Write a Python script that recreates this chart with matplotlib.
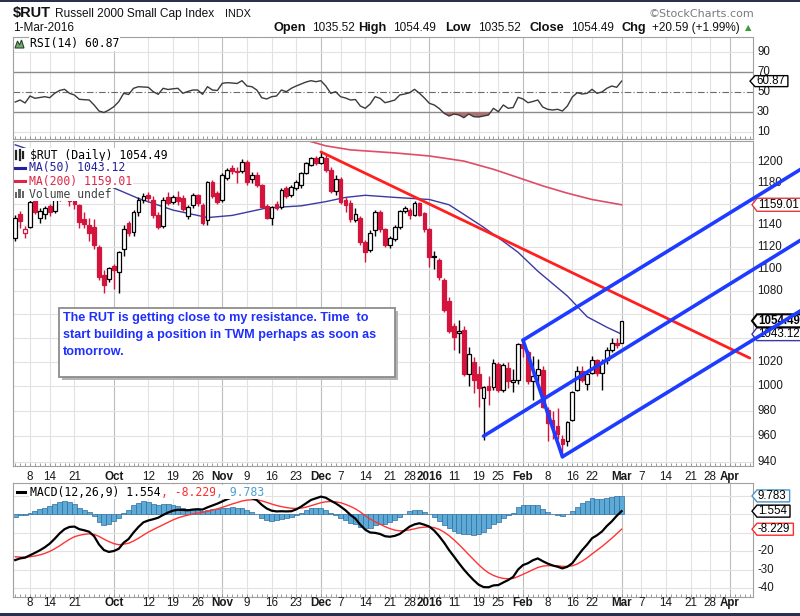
import numpy as np
import pandas as pd
import matplotlib
matplotlib.use('Agg')
import matplotlib.pyplot as plt
from matplotlib.patches import Rectangle, Polygon
from matplotlib.lines import Line2D
from matplotlib.ticker import NullLocator
from matplotlib.transforms import IdentityTransform, blended_transform_factory

# ---------------- trading calendar ----------------
holidays = ['2015-09-07', '2015-11-26', '2015-12-25', '2016-01-01',
            '2016-01-18', '2016-02-15', '2016-03-25']
calendar = pd.bdate_range('2015-09-02', '2016-04-29', freq='C', holidays=holidays)


def pos(d):
    return calendar.get_loc(pd.Timestamp(d))


# ---------------- data (Sep 2 2015 .. Mar 1 2016) ----------------
opens = [1128, 1150, 1133, 1138, 1164, 1147, 1150, 1158, 1153, 1165,
         1174, 1171, 1167, 1159, 1146, 1140, 1138, 1120, 1095, 1091,
         1103, 1097, 1118, 1142, 1134, 1152, 1164, 1168, 1164, 1149,
         1139, 1166, 1162, 1166, 1165, 1148, 1159, 1168, 1159, 1145,
         1181, 1170, 1164, 1185, 1194, 1191, 1191, 1200, 1184, 1187,
         1178, 1158, 1147, 1160, 1157, 1175, 1168, 1175, 1178, 1189,
         1197, 1204, 1199, 1204, 1192, 1172, 1184, 1164, 1161, 1145,
         1147, 1124, 1117, 1135, 1152, 1136, 1122, 1127, 1138, 1153,
         1154, 1149, 1161, 1151, 1136, 1111, 1108, 1090, 1072, 1050,
         1044, 1047, 1010, 1020, 1010, 990, 1000, 999, 1018, 997,
         1015, 1003, 1005, 1035, 1028, 1004, 1009, 1013, 981, 973,
         968, 958, 956, 973, 997, 1012, 1002, 1011, 1021, 1011,
         1021, 1030, 1036, 1035.52]
highs = [1149, 1153, 1139, 1165, 1166, 1156, 1158, 1160, 1167, 1176,
         1186, 1173, 1170, 1160, 1152, 1147, 1146, 1122, 1099, 1102,
         1104, 1116, 1140, 1144, 1154, 1166, 1170, 1171, 1167, 1152,
         1166, 1171, 1168, 1172, 1168, 1159, 1170, 1169, 1161, 1182,
         1183, 1172, 1189, 1194, 1197, 1195, 1203, 1202, 1190, 1190,
         1179, 1160, 1158, 1163, 1175, 1177, 1178, 1183, 1190, 1200,
         1205, 1206, 1211, 1207, 1195, 1187, 1186, 1166, 1164, 1156,
         1148, 1126, 1135, 1154, 1154, 1137, 1130, 1140, 1154, 1158,
         1156, 1163, 1162, 1152, 1137, 1116, 1110, 1092, 1075, 1053,
         1055, 1050, 1032, 1024, 1016, 1000, 1008, 1022, 1020, 1019,
         1020, 1014, 1036, 1038, 1030, 1025, 1022, 1016, 983, 980,
         982, 961, 972, 996, 1016, 1016, 1012, 1025, 1022, 1022,
         1032, 1040, 1040, 1054.49]
lows = [1125, 1137, 1128, 1137, 1150, 1142, 1146, 1148, 1151, 1163,
        1166, 1158, 1155, 1137, 1137, 1125, 1118, 1090, 1079, 1088,
        1082, 1079, 1112, 1130, 1130, 1148, 1161, 1162, 1147, 1136,
        1137, 1159, 1160, 1159, 1153, 1146, 1156, 1158, 1140, 1140,
        1165, 1160, 1162, 1183, 1188, 1180, 1189, 1178, 1180, 1176,
        1156, 1146, 1140, 1154, 1155, 1165, 1166, 1173, 1175, 1188,
        1196, 1197, 1198, 1190, 1170, 1168, 1160, 1152, 1143, 1143,
        1122, 1106, 1115, 1130, 1134, 1120, 1119, 1125, 1136, 1151,
        1146, 1148, 1148, 1134, 1102, 1100, 1090, 1062, 1044, 1030,
        1027, 1008, 1000, 994, 983, 957, 985, 997, 995, 995,
        998, 995, 1002, 1024, 1002, 989, 1003, 982, 956, 958,
        958, 946, 952, 972, 996, 1003, 997, 1010, 1008, 997,
        1018, 1028, 1031, 1035.52]
closes = [1147, 1144, 1136, 1162, 1152, 1153, 1156, 1152, 1165, 1174,
          1172, 1163, 1160, 1143, 1141, 1133, 1122, 1093, 1086, 1101,
          1099, 1115, 1136, 1133, 1152, 1164, 1167, 1165, 1149, 1138,
          1164, 1161, 1166, 1163, 1155, 1157, 1168, 1161, 1142, 1181,
          1167, 1162, 1187, 1192, 1191, 1190, 1200, 1181, 1187, 1178,
          1157, 1147, 1157, 1156, 1173, 1167, 1176, 1181, 1189, 1199,
          1204, 1199, 1205, 1192, 1172, 1184, 1162, 1159, 1146, 1150,
          1124, 1115, 1133, 1152, 1136, 1122, 1128, 1138, 1153, 1156,
          1149, 1161, 1149, 1136, 1111, 1112, 1093, 1064, 1046, 1041,
          1046, 1010, 1026, 1005, 998, 999, 997, 1019, 997, 1017,
          1004, 1005, 1035, 1031, 1004, 1008, 1014, 983, 970, 966,
          962, 954, 971, 995, 1012, 1005, 1010, 1021, 1011, 1020,
          1030, 1035.5, 1033.9, 1054.49]

rsi = [40, 42, 39, 46, 43.7, 44.5, 45.3, 44.3, 48.7, 51.5,
       52.7, 48.7, 47, 42.7, 42.3, 42, 37, 31, 29.5, 32,
       35.3, 40.3, 48.7, 47.5, 53.7, 55.3, 55, 54.7, 50.3, 47.7,
       53.7, 52.5, 53.2, 53.7, 48.7, 50.5, 52, 52, 47.7, 55.3,
       52, 51.5, 58.7, 59.3, 59, 58.5, 61.3, 56, 55.3, 52,
       44.3, 43, 45.3, 46, 52, 50.3, 53.7, 56, 58, 60,
       61.3, 60.3, 61.3, 56, 48.7, 50.3, 45.3, 44, 42, 42.5,
       36, 33.7, 38, 45.3, 43.7, 39.3, 40.5, 42, 47, 48,
       49.3, 52.7, 48.7, 44, 38.7, 37, 33.5, 28.7, 26, 28,
       27, 24.3, 28, 25.3, 25, 26, 27, 33.7, 30.3, 37,
       33.7, 34.5, 44.7, 43, 39.3, 40.5, 42, 35, 32.7, 32,
       32.7, 31, 36, 45, 49.3, 48, 48.7, 52.7, 48.7, 50,
       53.7, 56, 54.7, 60.87]

macd = [-24.9, -24.0, -23.6, -22.3, -21.0, -19.6, -18.0, -16.0, -13.4, -10.5,
        -8.2, -7.0, -6.8, -8.2, -8.8, -9.6, -12.0, -16.5, -19.5, -20.5,
        -20.0, -18.8, -15.5, -13.5, -10.0, -7.0, -4.5, -3.5, -2.8, -2.0,
        -0.5, 0.8, 1.8, 2.3, 2.2, 2.0, 2.4, 2.6, 2.4, 3.6,
        4.6, 5.6, 6.8, 8.0, 9.0, 9.6, 10.0, 9.5, 8.6, 7.5,
        5.0, 3.0, 1.8, 1.4, 1.5, 1.4, 1.5, 2.5, 4.0, 5.8,
        7.6, 8.5, 9.4, 8.8, 7.2, 5.8, 4.0, 2.0, -0.5, -2.5,
        -5.8, -8.5, -10.0, -10.2, -10.8, -12.0, -12.3, -11.8, -10.8, -8.8,
        -6.8, -5.6, -5.0, -5.8, -6.8, -9.0, -12.0, -15.5, -19.5, -23.0,
        -26.6, -30.0, -33.0, -35.8, -38.2, -39.5, -39.6, -38.6, -38.4, -37.0,
        -35.7, -34.0, -30.0, -27.6, -26.6, -25.0, -24.0, -25.5, -26.8, -27.8,
        -28.5, -29.4, -28.5, -26.6, -23.0, -19.5, -16.5, -13.1, -11.5, -9.5,
        -6.5, -4.0, -1.0, 1.554]
signal = [-23.1, -23.3, -23.3, -23.1, -22.7, -22.1, -21.3, -20.2, -18.8, -17.2,
          -15.4, -13.7, -12.3, -11.5, -11.0, -10.7, -11.0, -12.1, -13.6, -14.9,
          -16.0, -16.6, -16.3, -15.8, -14.6, -13.1, -11.4, -9.8, -8.4, -7.1,
          -5.8, -4.5, -3.2, -2.1, -1.3, -0.6, 0.0, 0.5, 0.9, 1.4,
          2.1, 2.8, 3.6, 4.5, 5.4, 6.2, 7.0, 7.5, 7.7, 7.7,
          7.1, 6.3, 5.4, 4.6, 4.0, 3.5, 3.1, 3.0, 3.2, 3.7,
          4.5, 5.3, 6.1, 6.6, 6.8, 6.6, 6.1, 5.2, 4.1, 2.8,
          1.1, -0.9, -2.7, -4.2, -5.5, -6.8, -7.9, -8.7, -9.1, -9.0,
          -8.6, -8.0, -7.4, -7.1, -7.0, -7.4, -8.3, -9.8, -11.7, -14.0,
          -16.5, -19.2, -22.0, -24.7, -27.4, -29.8, -31.8, -33.2, -34.2, -34.8,
          -35.0, -34.8, -33.8, -32.6, -31.4, -30.1, -28.9, -28.2, -27.9, -27.9,
          -28.0, -28.3, -28.3, -28.0, -27.0, -25.5, -23.7, -21.6, -19.6, -17.6,
          -15.4, -13.1, -10.7, -8.229]

ma50_dates = ['2015-09-02', '2015-09-08', '2015-09-15', '2015-09-22', '2015-09-30',
              '2015-10-08', '2015-10-19', '2015-10-28', '2015-11-04', '2015-11-13',
              '2015-11-24', '2015-12-02', '2015-12-08', '2015-12-14', '2015-12-22',
              '2016-01-04', '2016-01-08', '2016-01-13', '2016-01-20', '2016-01-26',
              '2016-01-29', '2016-02-04', '2016-02-12', '2016-02-19', '2016-02-25',
              '2016-03-01']
ma50_vals = [1217, 1212, 1204, 1193, 1177, 1165, 1154, 1147, 1149, 1156,
             1158, 1162, 1166, 1168, 1166, 1164, 1159, 1150, 1138, 1125,
             1115, 1098, 1076, 1058, 1049, 1043.12]
ma200_dates = ['2015-09-02', '2015-10-15', '2015-11-16', '2015-11-24', '2015-12-02',
               '2015-12-09', '2015-12-22', '2016-01-04', '2016-01-13', '2016-01-22',
               '2016-01-29', '2016-02-05', '2016-02-12', '2016-02-22', '2016-03-01']
ma200_vals = [1240, 1234, 1229, 1223, 1216, 1212, 1209, 1206, 1201, 1193,
              1185, 1177, 1170, 1164, 1159.01]

tick_dates = ['2015-09-08', '2015-09-14', '2015-09-21', '2015-10-01', '2015-10-12',
              '2015-10-19', '2015-10-26', '2015-11-02', '2015-11-09', '2015-11-16',
              '2015-11-23', '2015-12-01', '2015-12-07', '2015-12-14', '2015-12-21',
              '2015-12-28', '2016-01-04', '2016-01-11', '2016-01-19', '2016-01-25',
              '2016-02-01', '2016-02-08', '2016-02-16', '2016-02-22', '2016-03-01',
              '2016-03-07', '2016-03-14', '2016-03-21', '2016-03-28', '2016-04-01']
tick_labels = ['8', '14', '21', 'Oct', '12', '19', '26', 'Nov', '9', '16', '23',
               'Dec', '7', '14', '21', '28', '2016', '11', '19', '25', 'Feb', '8',
               '16', '22', 'Mar', '7', '14', '21', '28', 'Apr']
tick_major = ['Oct', 'Nov', 'Dec', '2016', 'Feb', 'Mar', 'Apr']

price_grid = [940, 960, 980, 1000, 1020, 1040, 1060, 1080, 1100, 1120,
              1140, 1160, 1180, 1200]
price_labels = [940, 960, 980, 1000, 1020, 1080, 1100, 1120, 1140, 1180, 1200]
rsi_ticks = [90, 70, 50, 30, 10]
macd_ticks = [-20, -30, -40]

# drawn annotations: (date, price)
red_trend = [('2015-12-01', 1210), ('2016-04-07', 1023)]
blue_lines = [[('2016-02-01', 1038), ('2016-04-22', 1195)],
              [('2016-01-20', 960), ('2016-04-22', 1128)],
              [('2016-02-11', 944), ('2016-04-22', 1065)],
              [('2016-02-01', 1038), ('2016-02-11', 944)]]
note_lines = ['The RUT is getting close to my resistance. Time  to',
              'start building a position in TWM perhaps as soon as',
              'tomorrow.']

# ---------------- figure ----------------
W, H = 800, 616
fig = plt.figure(figsize=(W / 100, H / 100), dpi=100)
fig.patch.set_facecolor('white')
ID = IdentityTransform()
SANS = 'Liberation Sans'
MONO = 'DejaVu Sans Mono'
RED = '#d3143c'
renderer = fig.canvas.get_renderer()


def iy(y):
    return H - y


def rect(l, t, r, b):
    return [l / W, 1 - b / H, (r - l) / W, (b - t) / H]


ax_r = fig.add_axes(rect(13, 37, 753, 139))
ax_p = fig.add_axes(rect(13, 141, 753, 466))
ax_m = fig.add_axes(rect(13, 483, 753, 597))
ax_p.set_yscale('log')

XL = (-0.45, 149.65)
tick_pos = [pos(d) for d in tick_dates]
for ax in (ax_r, ax_p, ax_m):
    ax.xaxis.set_major_locator(NullLocator())
    ax.yaxis.set_major_locator(NullLocator())
    ax.yaxis.set_minor_locator(NullLocator())
    ax.set_xticks(np.arange(len(calendar)), minor=True)
    ax.tick_params(axis='x', which='minor', direction='in', length=2.5,
                   width=0.6, color='#8a8a8a', labelbottom=False)
    ax.tick_params(axis='y', which='both', length=0, labelleft=False)
    ax.set_xlim(*XL)
    for s in ax.spines.values():
        s.set_color('#a0a0a0')
        s.set_linewidth(0.8)
    for p, lab in zip(tick_pos, tick_labels):
        ax.axvline(p, color='#bcbcbc' if lab in tick_major else '#e2e2e2',
                   lw=0.8, zorder=0.5)
ax_p.set_ylim(936.9, 1220.8)
ax_r.set_ylim(3, 105)
ax_m.set_ylim(-44.86, 16.76)

# x labels
for ax, yimg in ((ax_p, 477), (ax_m, 603)):
    tr = blended_transform_factory(ax.transData, ID)
    for p, lab in zip(tick_pos, tick_labels):
        ax.text(p, iy(yimg), lab, transform=tr, ha='center', va='center',
                fontsize=8.4, family=SANS, color='#1a1a1a',
                fontweight='bold' if lab in tick_major else 'normal')


def right_labels(ax, vals):
    tr = blended_transform_factory(ID, ax.transData)
    for v in vals:
        ax.text(757, v, str(v), transform=tr, ha='left', va='center',
                fontsize=8.3, family=SANS, color='#1a1a1a', zorder=5)


def tag(ax, val, label, ec, xp=752, h=13, lw=1.0, weight='normal'):
    yc = ax.transData.transform((0, val))[1]
    t = ax.text(xp + 6, yc, label, transform=ID, ha='left', va='center',
                fontsize=8.3, family=SANS, fontweight=weight, color='black',
                zorder=9.5)
    bb = t.get_window_extent(renderer)
    xr = bb.x1 + 3
    poly = Polygon([(xp, yc), (xp + 5, yc + h / 2), (xr, yc + h / 2),
                    (xr, yc - h / 2), (xp + 5, yc - h / 2)], closed=True,
                   transform=ID, fc='white', ec=ec, lw=lw, zorder=9,
                   clip_on=False)
    ax.add_artist(poly)


def seq_text(ax, x0, yimg, parts, fs, family, z=7):
    x = x0
    for s, col in parts:
        t = ax.text(x, iy(yimg), s, transform=ID, color=col, fontsize=fs,
                    family=family, va='center', ha='left', zorder=z,
                    bbox=dict(boxstyle='square,pad=0.08', fc='white', ec='none'))
        x = t.get_window_extent(renderer).x1


# ---------------- RSI panel ----------------
xr_ = np.arange(len(rsi))
rsi_a = np.array(rsi)
for v in (90, 10):
    ax_r.axhline(v, color='#e2e2e2', lw=0.8, zorder=0.6)
ax_r.axhline(70, color='#8c8c8c', lw=1.0, zorder=1)
ax_r.axhline(30, color='#8c8c8c', lw=1.0, zorder=1)
ax_r.axhline(50, color='#6a6a6a', lw=0.8, ls=(0, (6, 2, 1, 2)), zorder=1)
ax_r.fill_between(xr_, rsi_a, 30, where=rsi_a < 30, interpolate=True,
                  color='#a87474', zorder=2, lw=0)
ax_r.plot(xr_, rsi_a, color='#3a3a3a', lw=1.0, zorder=3)
right_labels(ax_r, rsi_ticks)
tag(ax_r, rsi[-1], '60.87', 'black', xp=750, h=11)
ax_r.add_artist(Polygon([(15, iy(48)), (17.5, iy(41)), (19.5, iy(45)),
                         (21.5, iy(40)), (24, iy(48))], closed=True,
                        transform=ID, fc='#79a879', ec='#244a24', lw=0.8,
                        zorder=7, clip_on=False))
seq_text(ax_r, 30, 44, [('RSI(14) 60.87', 'black')], 8.3, MONO)

# ---------------- price panel ----------------
for v in price_grid:
    ax_p.axhline(v, color='#e2e2e2', lw=0.8, zorder=0.6)

ax_p.plot([pos(d) for d in ma200_dates], ma200_vals, color='#de4d68',
          lw=1.2, zorder=2)
ax_p.plot([pos(d) for d in ma50_dates], ma50_vals, color='#3a3aa2',
          lw=1.0, zorder=2)

for i in range(len(closes)):
    o, h_, l_, c = opens[i], highs[i], lows[i], closes[i]
    prev = closes[i - 1] if i > 0 else o
    col = RED if c < prev else 'black'
    ax_p.plot([i, i], [l_, h_], color=col, lw=1.0, zorder=3,
              solid_capstyle='butt')
    lo, hi = min(o, c), max(o, c)
    face = 'white' if c >= o else col
    ax_p.add_patch(Rectangle((i - 0.38, lo), 0.76, max(hi - lo, 0.4),
                             facecolor=face, edgecolor=col, lw=0.9, zorder=4))

(d0, p0), (d1, p1) = red_trend
ax_p.plot([pos(d0), pos(d1)], [p0, p1], color='#ff1f1f', lw=2.0, zorder=8,
          solid_capstyle='round')
for seg in blue_lines:
    (d0, p0), (d1, p1) = seg
    ax_p.plot([pos(d0), pos(d1)], [p0, p1], color='#1e3cff', lw=2.6,
              zorder=10, clip_on=False, solid_capstyle='round')

right_labels(ax_p, price_labels)
tag(ax_p, 1159.01, '1159.01', '#e23a3a')
tag(ax_p, 1043.12, '1043.12', '#3a3aa2')
tag(ax_p, 1054.49, '1054.49', 'black', lw=1.5, weight='bold')

# note box
ax_p.add_artist(Rectangle((62, iy(380)), 336, 69, transform=ID, fc='#b4b4b4',
                          ec='none', zorder=6, clip_on=False))
ax_p.add_artist(Rectangle((59, iy(377)), 336, 69, transform=ID, fc='white',
                          ec='#8c8c8c', lw=1.3, zorder=6.2, clip_on=False))
for k, line in enumerate(note_lines):
    ax_p.text(63, iy(318 + 17 * k), line, transform=ID, ha='left', va='center',
              fontsize=9.1, family=SANS, fontweight='bold', color='#1f2fff',
              zorder=6.5)

# legend
seq_text(ax_p, 30, 155, [('$RUT (Daily) 1054.49', 'black')], 8.3, MONO)
seq_text(ax_p, 29, 168, [('MA(50) 1043.12', '#22229a')], 8.3, MONO)
seq_text(ax_p, 29, 181, [('MA(200) 1159.01', '#dc2848')], 8.3, MONO)
seq_text(ax_p, 29, 194, [('Volume undef', '#444444')], 8.3, MONO)
ax_p.add_artist(Rectangle((14, iy(200)), 15, 52, transform=ID, fc='white',
                          ec='none', zorder=6.8, clip_on=False))
for xx, y0, y1 in ((16, 151, 159), (19.5, 150, 160), (23, 152, 158)):
    ax_p.add_artist(Line2D([xx, xx], [iy(y1), iy(y0)], transform=ID,
                           color='#222222', lw=1.6, zorder=7.5))
ax_p.add_artist(Line2D([15, 25], [iy(168), iy(168)], transform=ID,
                       color='#22229a', lw=2.2, zorder=7.5))
ax_p.add_artist(Line2D([15, 25], [iy(181), iy(181)], transform=ID,
                       color='#dc2848', lw=2.2, zorder=7.5))
for xx, hh in ((16, 6), (19.5, 9), (23, 7)):
    ax_p.add_artist(Rectangle((xx - 1.2, iy(198)), 2.4, hh, transform=ID,
                              fc='#666666', ec='none', zorder=7.5))

# ---------------- MACD panel ----------------
xm = np.arange(len(macd))
macd_a = np.array(macd)
sig_a = np.array(signal)
hist_a = macd_a - sig_a
for v in (-40, -30, -20, -10, 0, 10):
    ax_m.axhline(v, color='#e2e2e2', lw=0.8, zorder=0.6)
ax_m.bar(xm, hist_a, width=1.0, color='#5eaad6', edgecolor='#2e6e9e',
         lw=0.5, zorder=2)
ax_m.plot(xm, sig_a, color='#ff3333', lw=1.0, zorder=3)
ax_m.plot(xm, macd_a, color='black', lw=1.6, zorder=4)
right_labels(ax_m, macd_ticks)
tag(ax_m, 9.783, '9.783', '#4a95c8', h=12)
tag(ax_m, 1.554, '1.554', 'black', h=12)
tag(ax_m, -8.229, '-8.229', '#ff2a2a', h=12)
ax_m.add_artist(Line2D([17, 25], [iy(492), iy(492)], transform=ID,
                       color='black', lw=2.2, zorder=7.5))
seq_text(ax_m, 30, 492, [('MACD(12,26,9) 1.554', 'black'), (', -8.229', '#ff2a2a'),
                         (', 9.783', '#4a9fd0')], 8.3, MONO)

# ---------------- header ----------------
fig.text(13, iy(13.5), '$RUT', fontsize=10.5, fontweight='bold', family=SANS,
         va='center', ha='left', color='#111111', transform=ID)
fig.text(55, iy(14), 'Russell 2000 Small Cap Index', fontsize=8.6, family=SANS,
         va='center', ha='left', color='#111111', transform=ID)
fig.text(225, iy(14), 'INDX', fontsize=7.8, family=SANS, va='center', ha='left',
         color='#111111', transform=ID)
fig.text(13, iy(28), '1-Mar-2016', fontsize=8.5, family=SANS, va='center',
         ha='left', color='#111111', transform=ID)
header = [('Open', 273, True), ('1035.52', 312, False), ('High', 358, True),
          ('1054.49', 393, False), ('Low', 445, True), ('1035.52', 478, False),
          ('Close', 529, True), ('1054.49', 571, False), ('Chg', 622, True),
          ('+20.59 (+1.99%)', 652, False)]
for s, xx, b in header:
    fig.text(xx, iy(28), s, fontsize=9.2 if b else 8.5, family=SANS,
             fontweight='bold' if b else 'normal', va='center', ha='left',
             color='#111111', transform=ID)
fig.text(745, iy(28), '\u25b2', fontsize=6, family='DejaVu Sans', va='center',
         ha='left', color='#3a9a3a', transform=ID)
fig.text(648, iy(14), '\u00a9StockCharts.com', fontsize=8.0, family='DejaVu Sans',
         va='center', ha='left', color='#7a7a7a', transform=ID)

fig.add_artist(Rectangle((0, H - 2), W, 2, transform=ID, fc='#2d2f4f', ec='none'))
fig.add_artist(Rectangle((0, 0), W, 3, transform=ID, fc='#2d2f4f', ec='none'))

fig.savefig('out.png', dpi=100)
